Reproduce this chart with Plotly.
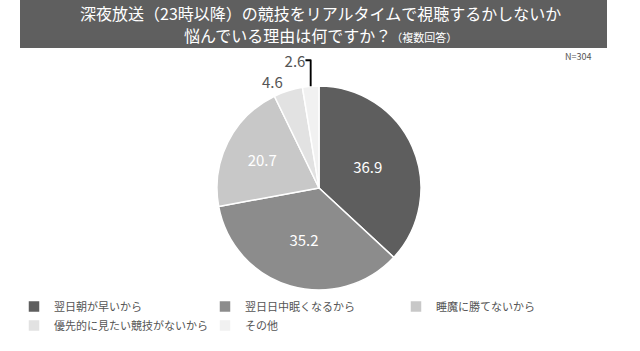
import plotly.graph_objects as go

categories = ["翌日朝が早いから", "翌日日中眠くなるから", "睡魔に勝てないから", "優先的に見たい競技がないから", "その他"]
values = [36.9, 35.2, 20.7, 4.6, 2.6]
colors = ["#5e5e5e", "#8c8c8c", "#c8c8c8", "#e2e2e2", "#f1f1f1"]
text_colors = ["#ffffff", "#ffffff", "#ffffff", "#555555", "#555555"]
positions = ["inside", "inside", "inside", "outside", "outside"]
title_lines = ["深夜放送（23時以降）の競技をリアルタイムで視聴するかしないか",
               "悩んでいる理由は何ですか？<span style='font-size:11px'>（複数回答）</span>"]

W, H = 640, 351
cx, cy, r = 319, 188, 102

fig = go.Figure(go.Pie(
    labels=categories,
    values=values,
    sort=False,
    direction="clockwise",
    rotation=0,
    marker=dict(colors=colors, line=dict(color="#ffffff", width=1.5)),
    texttemplate="%{value:.1f}",
    textposition=positions,
    insidetextorientation="horizontal",
    textfont=dict(size=15, color=text_colors, family="Noto Sans CJK JP"),
    domain=dict(x=[(cx - r) / W, (cx + r) / W], y=[(H - cy - r) / H, (H - cy + r) / H]),
    hoverinfo="skip",
))

fig.update_layout(
    width=W, height=H,
    margin=dict(l=0, r=0, t=0, b=0),
    paper_bgcolor="#ffffff",
    font=dict(family="Noto Sans CJK JP", color="#555555"),
    showlegend=True,
    legend=dict(
        orientation="h",
        x=14 / W, y=(H - 292) / H, xanchor="left", yanchor="top",
        entrywidth=146, entrywidthmode="pixels",
        font=dict(size=11, color="#555555"),
        itemwidth=30,
        tracegroupgap=0,
    ),
    shapes=[dict(type="rect", xref="paper", yref="paper",
                 x0=20 / W, x1=607 / W, y0=(H - 48) / H, y1=1,
                 fillcolor="#5f5f5f", line=dict(width=0), layer="below")],
    annotations=[
        dict(text=title_lines[0],
             x=320 / W, y=(H - 13) / H, xref="paper", yref="paper",
             xanchor="center", yanchor="middle", showarrow=False,
             font=dict(size=16, color="#ffffff", family="Noto Sans CJK JP")),
        dict(text=title_lines[1],
             x=320 / W, y=(H - 35) / H, xref="paper", yref="paper",
             xanchor="center", yanchor="middle", showarrow=False,
             font=dict(size=16, color="#ffffff", family="Noto Sans CJK JP")),
        dict(text="N=304", x=578 / W, y=(H - 57) / H, xref="paper", yref="paper",
             xanchor="center", yanchor="middle", showarrow=False,
             font=dict(size=9, color="#555555")),
    ],
)

fig.write_html("out.html")
